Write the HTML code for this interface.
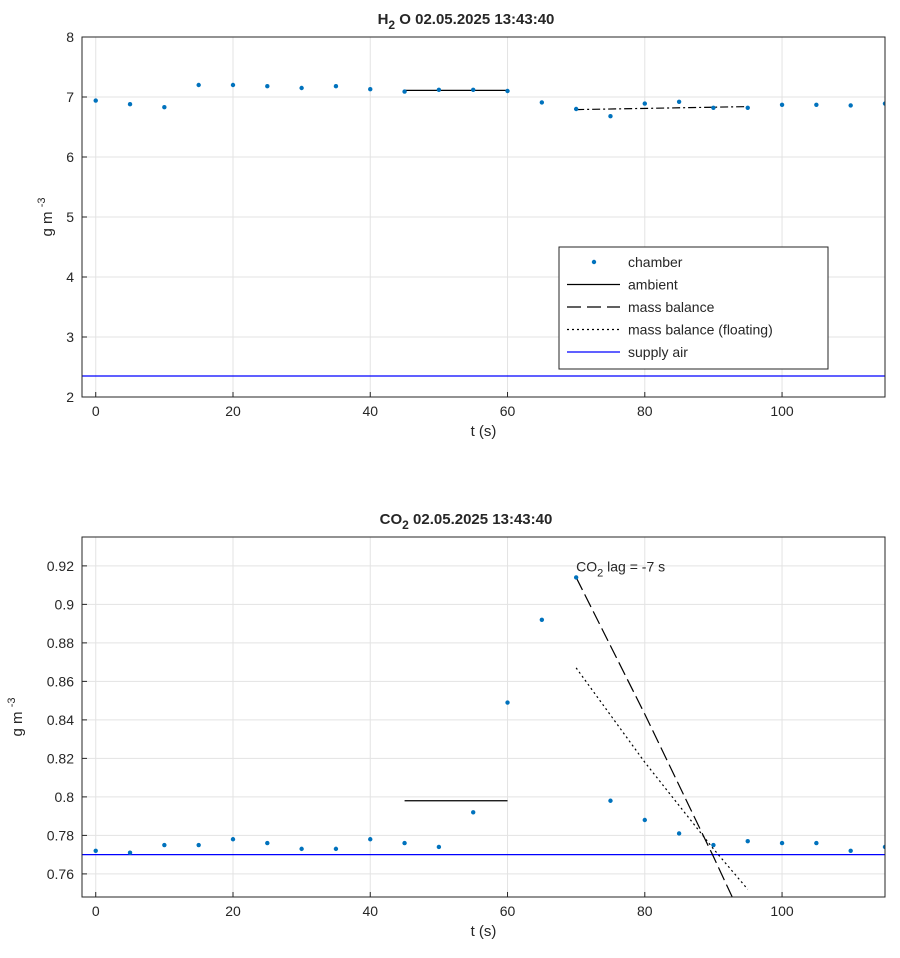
<!DOCTYPE html>
<html><head><meta charset="utf-8"><style>
body{margin:0;background:#fff;font-family:"Liberation Sans",sans-serif}
svg text{font-family:"Liberation Sans",sans-serif;fill:#262626}
</style></head><body>
<svg id="c" width="900" height="953" xmlns="http://www.w3.org/2000/svg"></svg>
<script>
const tVals=[0,5,10,15,20,25,30,35,40,45,50,55,60,65,70,75,80,85,90,95,100,105,110,115];
const h2oVals=[6.94,6.88,6.83,7.20,7.20,7.18,7.15,7.18,7.13,7.09,7.12,7.12,7.10,6.91,6.80,6.68,6.89,6.92,6.82,6.82,6.87,6.87,6.86,6.89];
const h2oAmbient=[[45,7.11],[60,7.11]];
const h2oMass=[[70,6.79],[95,6.84]];
const h2oSupply=2.35;
const co2Vals=[0.772,0.771,0.775,0.775,0.778,0.776,0.773,0.773,0.778,0.776,0.774,0.792,0.849,0.892,0.914,0.798,0.788,0.781,0.775,0.777,0.776,0.776,0.772,0.774];
const co2Ambient=[[45,0.798],[60,0.798]];
const co2Mass=[[70,0.914],[80,0.843],[90,0.769],[93,0.746]];
const co2Float=[[70,0.867],[80,0.818],[90,0.773],[95,0.752]];
const co2Supply=0.770;
const xTicks=[0,20,40,60,80,100];
const h2oTicks=[2,3,4,5,6,7,8];
const co2Ticks=[0.76,0.78,0.8,0.82,0.84,0.86,0.88,0.9,0.92];
const co2TickLabels=["0.76","0.78","0.8","0.82","0.84","0.86","0.88","0.9","0.92"];

const svg=document.getElementById('c');
const NS="http://www.w3.org/2000/svg";
function mk(tag,attrs,name,parent){const e=document.createElementNS(NS,tag);for(const k in attrs)e.setAttribute(k,attrs[k]);


(parent||svg).appendChild(e);return e;}
function txt(x,y,s,name,extra){const e=mk('text',Object.assign({x:x,y:y,'font-size':14},extra||{}),name);e.textContent=s;return e;}

function panel(o){
 const L=82,R=885,T=o.T,B=o.B,xmin=-2,xmax=115;
 const X=v=>L+(v-xmin)/(xmax-xmin)*(R-L);
 const Y=v=>B-(v-o.ymin)/(o.ymax-o.ymin)*(B-T);
 const g=mk('g',{},o.p+'-axes');
 mk('rect',{x:L,y:T,width:R-L,height:B-T,fill:'#fff'},o.p+'-plot-area',g);
 xTicks.forEach(v=>mk('line',{x1:X(v),x2:X(v),y1:T,y2:B,stroke:'#e3e3e3'},o.p+'-x-grid',g));
 o.yt.forEach(v=>mk('line',{x1:L,x2:R,y1:Y(v),y2:Y(v),stroke:'#e3e3e3'},o.p+'-y-grid',g));
 const clip=mk('clipPath',{id:o.p+'clip'},o.p+'-clip',g);mk('rect',{x:L,y:T,width:R-L,height:B-T},o.p+'-clip-rect',clip);
 const d=mk('g',{'clip-path':'url(#'+o.p+'clip)'},o.p+'-series',g);
 const line=(pts,name,attrs)=>mk('polyline',Object.assign({points:pts.map(p=>X(p[0])+','+Y(p[1])).join(' '),fill:'none',stroke:'#000','stroke-width':1.2},attrs||{}),name,d);
 line([[xmin,o.supply],[xmax,o.supply]],o.p+'-supply-air-line',{stroke:'#0000ff'});
 line(o.amb,o.p+'-ambient-line');
 o.lines.forEach(l=>line(l.pts,l.name,l.attrs));
 o.vals.forEach((v,i)=>mk('circle',{cx:X(tVals[i]),cy:Y(v),r:2.2,fill:'#0072bd'},o.p+'-chamber-point',d));
 mk('rect',{x:L,y:T,width:R-L,height:B-T,fill:'none',stroke:'#262626','stroke-width':1},o.p+'-axes-box',g);
 xTicks.forEach(v=>{mk('line',{x1:X(v),x2:X(v),y1:B,y2:B-5,stroke:'#262626'},o.p+'-x-tick',g);txt(X(v),B+19,String(v),o.p+'-x-tick-label',{'text-anchor':'middle'});});
 o.yt.forEach((v,i)=>{mk('line',{x1:L,x2:L+5,y1:Y(v),y2:Y(v),stroke:'#262626'},o.p+'-y-tick',g);txt(L-8,Y(v)+5,o.yl[i],o.p+'-y-tick-label',{'text-anchor':'end'});});
 txt((L+R)/2,B+39,'t (s)',o.p+'-x-axis-title',{'text-anchor':'middle','font-size':15});
 const yt=txt(0,0,'',o.p+'-y-axis-title',{'font-size':15,transform:'translate('+o.ylx+','+(T+B)/2+') rotate(-90)','text-anchor':'middle'});
 yt.innerHTML='g m <tspan dy="-7" font-size="11">-3</tspan>';
 const tt=txt(o.tx,T-13,'',o.p+'-title',{'font-weight':'bold','font-size':15,'text-anchor':'middle'});
 tt.innerHTML=o.title;
 return {X,Y};
}
panel({p:'h2o',T:37,B:397,ymin:2,ymax:8,yt:h2oTicks,yl:h2oTicks.map(String),vals:h2oVals,supply:h2oSupply,amb:h2oAmbient,
 lines:[{pts:h2oMass,name:'h2o-mass-balance-line',attrs:{'stroke-dasharray':'8,3,2,3'}}],ylx:52,tx:466,
 title:'H<tspan dy="5" font-size="12">2</tspan><tspan dy="-5"> O  02.05.2025 13:43:40</tspan>'});
const b=panel({p:'co2',T:537,B:897,ymin:0.748,ymax:0.935,yt:co2Ticks,yl:co2TickLabels,vals:co2Vals,supply:co2Supply,amb:co2Ambient,
 lines:[{pts:co2Mass,name:'co2-mass-balance-line',attrs:{'stroke-dasharray':'14,5'}},{pts:co2Float,name:'co2-mass-balance-floating-line',attrs:{'stroke-dasharray':'2,3'}}],ylx:22,tx:466,
 title:'CO<tspan dy="5" font-size="12">2</tspan><tspan dy="-5">   02.05.2025 13:43:40</tspan>'});
const ann=txt(b.X(70),b.Y(0.914)-6,'','co2-lag-annotation');
ann.innerHTML='CO<tspan dy="5" font-size="11">2</tspan><tspan dy="-5"> lag = -7 s</tspan>';

// legend
const lg=mk('g',{},'legend');
mk('rect',{x:559,y:247,width:269,height:122,fill:'#fff',stroke:'#262626'},'legend-box',lg);
const items=[['chamber',null],['ambient','none'],['mass balance','14,6'],['mass balance (floating)','2,3'],['supply air','none']];
items.forEach((it,i)=>{const y=262+i*22.5;
 if(i===0)mk('circle',{cx:594,cy:y,r:2.2,fill:'#0072bd'},'legend-chamber-marker',lg);
 else mk('line',{x1:567,x2:620,y1:y,y2:y,stroke:i===4?'#0000ff':'#000','stroke-width':1.2,'stroke-dasharray':it[1]},'legend-line-'+i,lg);
 txt(628,y+5,it[0],'legend-entry');});
</script>
</body></html>
